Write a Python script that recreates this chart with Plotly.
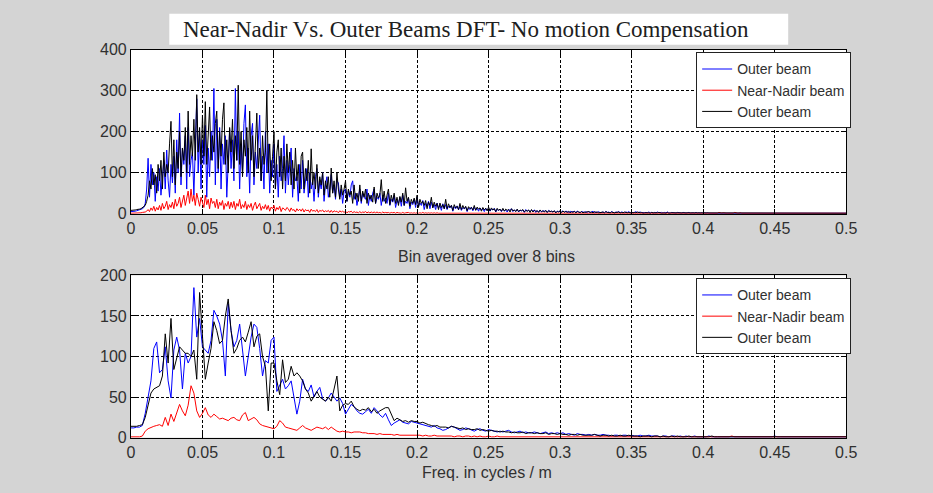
import plotly.graph_objects as go

TOP_STEP = 0.001
BOT_STEP = 0.002
X_TICKS = [0, 0.05, 0.1, 0.15, 0.2, 0.25, 0.3, 0.35, 0.4, 0.45, 0.5]
X_TICK_LABELS = ["0", "0.05", "0.1", "0.15", "0.2", "0.25", "0.3", "0.35", "0.4", "0.45", "0.5"]
TOP_Y_TICKS = [0, 100, 200, 300, 400]
BOT_Y_TICKS = [0, 50, 100, 150, 200]

# ---- Top panel: raw DFT magnitude (bin frequency = index * TOP_STEP)
top_outer_blue = [
    5, 5, 6, 6, 7, 8, 9, 10, 12, 15,
    25, 60, 135, 40, 120, 70, 100, 30, 90, 55,
    110, 45, 95, 130, 60, 155, 80, 40, 120, 75,
    140, 50, 180, 100, 245, 70, 160, 120, 190, 60,
    210, 90, 130, 150, 45, 170, 280, 100, 200, 60,
    180, 120, 215, 40, 160, 90, 200, 130, 305, 70,
    230, 100, 210, 60, 170, 120, 190, 40, 150, 205,
    110, 180, 80, 305, 130, 200, 60, 170, 100, 220,
    265, 90, 160, 50, 190, 220, 70, 150, 110, 180,
    240, 80, 140, 60, 200, 100, 170, 50, 130, 90,
    170, 60, 120, 40, 140, 80, 110, 190, 50, 130,
    70, 120, 160, 40, 110, 80, 90, 30, 120, 60,
    130, 50, 90, 110, 40, 100, 60, 80, 30, 90,
    110, 40, 80, 60, 100, 30, 70, 90, 40, 60,
    95, 50, 70, 35, 80, 75, 40, 60, 25, 55,
    60, 30, 55, 40, 70, 80, 35, 50, 20, 45,
    60, 25, 50, 40, 35, 60, 20, 45, 30, 50,
    60, 25, 40, 35, 50, 20, 45, 30, 38, 25,
    50, 20, 35, 28, 45, 15, 32, 25, 40, 18,
    45, 20, 30, 25, 38, 12, 28, 22, 35, 15,
    40, 18, 26, 20, 32, 10, 25, 18, 30, 12,
    28, 15, 22, 10, 26, 14, 20, 8, 24, 12,
    22, 10, 18, 14, 20, 6, 17, 12, 19, 9,
    18, 8, 15, 12, 16, 5, 14, 10, 16, 7,
    15, 9, 13, 6, 14, 10, 12, 5, 13, 8,
    12, 6, 11, 9, 13, 4, 10, 8, 11, 5,
    11, 7, 9, 4, 10, 8, 12, 5, 9, 6,
    10, 4, 8, 7, 9, 3, 10, 6, 8, 5,
    8, 6, 9, 3, 7, 5, 8, 4, 7, 6,
    7, 3, 8, 5, 6, 4, 7, 2, 6, 5,
    6, 4, 7, 3, 6, 5, 2, 6, 4, 5,
    5, 3, 6, 4, 2, 5, 4, 3, 5, 2,
    5, 3, 4, 6, 2, 4, 3, 5, 2, 4,
    4, 2, 5, 3, 4, 2, 5, 3, 2, 4,
    3, 5, 2, 4, 3, 2, 4, 3, 5, 2,
    4, 2, 3, 5, 2, 3, 4, 2, 3, 2,
    3, 2, 4, 2, 3, 1, 3, 2, 4, 2,
    2, 3, 1, 3, 2, 4, 2, 1, 3, 2,
    2, 1, 3, 2, 2, 1, 3, 2, 1, 2,
    3, 1, 2, 2, 1, 3, 1, 2, 1, 2,
    1, 2, 1, 2, 1, 1, 2, 1, 2, 1,
    1, 1, 2, 1, 1, 2, 1, 1, 1, 2,
    1, 1, 1, 2, 1, 1, 1, 1, 2, 1,
    1, 1, 1, 1, 1, 2, 1, 1, 1, 1,
    1, 1, 1, 1, 1, 1, 1, 1, 1, 1,
    1, 1, 1, 1, 1, 1, 1, 1, 1, 1,
    1, 1, 1, 1, 1, 1, 1, 1, 1, 1,
    1, 1, 1, 1, 1, 1, 1, 1, 1, 1,
    1, 1, 1, 1, 1, 1, 1, 1, 1, 1,
    1, 1, 1, 1, 1, 1, 1, 1, 1, 1,
    1,
]
top_near_nadir = [
    1, 1, 1, 1, 1, 2, 2, 2, 3, 3,
    4, 6, 10, 5, 14, 8, 18, 6, 15, 9,
    20, 8, 25, 12, 18, 30, 10, 22, 15, 28,
    12, 35, 18, 25, 40, 15, 30, 45, 20, 35,
    55, 25, 60, 30, 45, 20, 50, 35, 18, 40,
    30, 15, 45, 22, 35, 12, 38, 25, 30, 15,
    35, 12, 28, 20, 32, 10, 25, 18, 30, 12,
    28, 15, 30, 10, 25, 18, 35, 12, 22, 15,
    30, 10, 22, 15, 25, 8, 20, 28, 12, 18,
    25, 8, 18, 12, 22, 10, 20, 6, 16, 12,
    20, 6, 15, 10, 18, 5, 14, 12, 8, 15,
    12, 5, 14, 8, 10, 4, 12, 7, 11, 6,
    12, 4, 10, 7, 9, 3, 11, 6, 8, 5,
    10, 3, 8, 6, 9, 4, 7, 5, 8, 3,
    8, 3, 7, 5, 6, 2, 7, 4, 6, 3,
    6, 2, 5, 4, 6, 2, 5, 3, 4, 2,
    5, 2, 4, 3, 5, 2, 4, 2, 4, 2,
    4, 2, 4, 2, 3, 1, 4, 2, 3, 2,
    3, 1, 3, 2, 3, 1, 3, 2, 2, 1,
    3, 1, 2, 2, 3, 1, 2, 1, 2, 1,
    2, 1, 2, 1, 3, 1, 2, 1, 2, 1,
    2, 1, 2, 1, 2, 1, 1, 2, 1, 1,
    2, 1, 1, 2, 1, 1, 2, 1, 1, 1,
    1, 2, 1, 1, 1, 2, 1, 1, 1, 1,
    1, 1, 1, 2, 1, 1, 1, 1, 2, 1,
    1, 1, 2, 1, 1, 1, 1, 1, 1, 2,
    1, 1, 1, 1, 2, 1, 1, 1, 1, 1,
    2, 1, 1, 1, 1, 1, 2, 1, 1, 1,
    1, 1, 1, 2, 1, 1, 1, 1, 1, 1,
    1, 1, 2, 1, 1, 1, 1, 2, 1, 1,
    1, 2, 1, 1, 1, 1, 1, 1, 2, 1,
    1, 1, 1, 1, 2, 1, 1, 1, 1, 1,
    1, 1, 1, 1, 1, 1, 2, 1, 1, 1,
    1, 2, 1, 1, 1, 1, 1, 1, 1, 1,
    1, 1, 1, 1, 1, 2, 1, 1, 1, 1,
    1, 1, 1, 1, 1, 1, 1, 1, 2, 1,
    1, 1, 2, 1, 1, 1, 1, 1, 1, 1,
    1, 1, 1, 1, 1, 1, 2, 1, 1, 1,
    1, 1, 1, 1, 1, 1, 1, 1, 1, 1,
    1, 2, 1, 1, 1, 1, 1, 1, 1, 1,
    1, 1, 1, 2, 1, 1, 1, 1, 1, 2,
    1, 3, 1, 1, 2, 1, 1, 1, 1, 1,
    1, 1, 3, 1, 1, 1, 2, 1, 1, 1,
    1, 1, 1, 1, 1, 1, 1, 1, 1, 1,
    1, 1, 1, 1, 1, 1, 1, 1, 1, 1,
    1, 1, 1, 1, 1, 1, 1, 1, 1, 1,
    1, 1, 1, 1, 1, 1, 1, 1, 1, 1,
    1, 1, 1, 1, 1, 1, 1, 1, 1, 1,
    1, 1, 1, 1, 1, 1, 1, 1, 1, 1,
    1, 1, 1, 1, 1, 1, 1, 1, 1, 1,
    1,
]
top_outer_black = [
    8, 8, 9, 9, 10, 10, 11, 12, 14, 16,
    20, 30, 45, 80, 60, 110, 70, 95, 50, 120,
    80, 130, 60, 150, 90, 120, 100, 170, 225, 90,
    180, 70, 150, 110, 200, 90, 160, 130, 210, 100,
    250, 120, 190, 140, 230, 130, 290, 150, 210, 120,
    240, 140, 273, 120, 200, 260, 130, 190, 150, 220,
    250, 110, 200, 140, 230, 270, 120, 180, 100, 210,
    150, 230, 110, 190, 130, 313, 120, 200, 90, 180,
    140, 210, 100, 250, 130, 190, 90, 170, 245, 110,
    160, 80, 190, 120, 150, 300, 100, 170, 80, 140,
    200, 60, 150, 180, 90, 160, 60, 140, 80, 170,
    100, 150, 70, 130, 60, 160, 80, 120, 50, 140,
    150, 60, 110, 80, 130, 50, 158, 70, 100, 60,
    120, 50, 90, 70, 100, 45, 80, 60, 90, 40,
    111, 50, 80, 40, 100, 60, 35, 70, 45, 60,
    80, 30, 60, 45, 55, 25, 70, 35, 50, 30,
    70, 30, 55, 40, 60, 25, 50, 35, 45, 28,
    65, 25, 50, 38, 45, 83, 30, 55, 25, 45,
    60, 22, 45, 30, 50, 25, 40, 20, 42, 28,
    50, 20, 63, 30, 40, 18, 35, 25, 38, 22,
    45, 15, 35, 25, 30, 20, 32, 12, 28, 20,
    40, 14, 28, 18, 25, 10, 26, 15, 22, 12,
    35, 12, 24, 15, 20, 8, 22, 14, 18, 10,
    25, 10, 20, 12, 18, 7, 17, 12, 15, 9,
    20, 8, 16, 11, 14, 6, 15, 9, 13, 7,
    16, 7, 14, 9, 12, 5, 13, 8, 11, 6,
    13, 6, 11, 8, 10, 4, 12, 7, 9, 5,
    11, 5, 9, 7, 10, 4, 8, 6, 9, 3,
    10, 4, 8, 6, 7, 3, 9, 5, 7, 4,
    8, 3, 7, 5, 6, 4, 7, 2, 6, 4,
    7, 3, 6, 4, 5, 3, 6, 2, 5, 3,
    6, 2, 5, 4, 3, 5, 2, 4, 3, 5,
    5, 3, 4, 2, 5, 3, 4, 2, 3, 4,
    4, 2, 5, 3, 3, 2, 4, 3, 2, 3,
    3, 4, 2, 3, 2, 4, 3, 2, 3, 2,
    3, 2, 3, 2, 4, 2, 2, 3, 1, 2,
    2, 3, 2, 1, 3, 2, 2, 1, 2, 3,
    2, 1, 2, 2, 1, 3, 1, 2, 2, 1,
    2, 1, 1, 2, 1, 2, 1, 1, 2, 1,
    1, 2, 1, 1, 2, 1, 1, 2, 1, 1,
    1, 1, 2, 1, 1, 1, 2, 1, 1, 1,
    1, 1, 1, 1, 2, 1, 1, 1, 1, 1,
    1, 2, 1, 1, 1, 1, 1, 1, 1, 1,
    1, 1, 1, 1, 1, 1, 1, 1, 1, 1,
    1, 1, 1, 1, 1, 1, 1, 1, 1, 1,
    1, 1, 1, 1, 1, 1, 1, 1, 1, 1,
    1, 1, 1, 1, 1, 1, 1, 1, 1, 1,
    1, 1, 1, 1, 1, 1, 1, 1, 1, 1,
    1, 1, 1, 1, 1, 1, 1, 1, 1, 1,
    1, 1, 1, 1, 1, 1, 1, 1, 1, 1,
    1,
]

# ---- Bottom panel: bin averaged over 8 bins (bin frequency = index * BOT_STEP)
bot_outer_blue = [
    12, 12, 13, 13, 15, 30, 50, 70, 110, 118,
    80, 84, 112, 70, 49, 108, 124, 108, 60, 104,
    92, 100, 185, 124, 147, 112, 108, 104, 120, 157,
    150, 140, 120, 76, 165, 132, 112, 120, 140, 110,
    76, 100, 124, 140, 136, 110, 76, 95, 92, 120,
    124, 57, 65, 72, 60, 64, 70, 50, 29, 45,
    72, 60, 57, 65, 50, 57, 62, 48, 45, 49,
    55, 50, 45, 49, 42, 29, 35, 41, 38, 33,
    30, 29, 32, 35, 30, 37, 33, 28, 25, 30,
    22, 15, 18, 20, 22, 19, 18, 17, 20, 19,
    18, 17, 16, 15, 14, 13, 15, 12, 11, 9,
    10, 12, 14, 13, 11, 9, 10, 12, 11, 9,
    8, 10, 11, 9, 8, 10, 9, 8, 7, 8,
    7, 8, 9, 7, 6, 7, 8, 6, 7, 6,
    6, 7, 6, 5, 6, 7, 5, 6, 5, 6,
    5, 6, 4, 5, 4, 3, 5, 4, 4, 3,
    4, 3, 4, 3, 3, 4, 3, 3, 2, 3,
    3, 2, 3, 3, 2, 3, 2, 2, 3, 2,
    2, 3, 2, 2, 2, 1, 2, 2, 1, 2,
    2, 1, 2, 1, 2, 1, 1, 2, 1, 1,
    1, 1, 2, 1, 1, 1, 1, 1, 1, 1,
    1, 1, 1, 1, 1, 1, 1, 1, 1, 1,
    1, 1, 1, 1, 1, 2, 1, 1, 1, 1,
    1, 1, 1, 1, 1, 1, 1, 1, 1, 1,
    1, 1, 1, 1, 1, 1, 1, 1, 1, 1,
    1,
]
bot_near_nadir = [
    1, 1, 1, 1, 2, 8, 11, 13, 14, 15,
    16, 14, 25, 15, 29, 20, 30, 41, 33, 27,
    40, 64, 55, 33, 25, 30, 37, 28, 25, 29,
    26, 23, 24, 22, 21, 24, 25, 22, 21, 28,
    31, 21, 23, 25, 22, 17, 15, 14, 13, 12,
    11, 14, 21, 18, 13, 12, 11, 10, 9, 12,
    15, 12, 10, 9, 11, 13, 12, 11, 13, 10,
    13, 10, 8, 7, 8, 7, 7, 6, 7, 7,
    7, 6, 6, 5, 5, 5, 4, 5, 4, 4,
    4, 4, 3, 4, 3, 3, 3, 3, 3, 3,
    3, 3, 2, 3, 2, 2, 3, 2, 2, 2,
    2, 2, 2, 1, 2, 2, 1, 2, 2, 1,
    2, 1, 2, 1, 1, 2, 1, 1, 2, 1,
    1, 1, 1, 1, 1, 1, 1, 1, 1, 1,
    1, 1, 1, 1, 1, 1, 1, 1, 1, 1,
    1, 1, 1, 1, 1, 1, 1, 1, 1, 1,
    1, 1, 1, 1, 1, 1, 1, 1, 1, 1,
    1, 1, 1, 1, 1, 1, 1, 1, 1, 1,
    1, 1, 1, 1, 1, 1, 1, 1, 1, 1,
    1, 1, 1, 1, 1, 1, 1, 1, 1, 1,
    1, 1, 1, 1, 1, 1, 1, 1, 1, 1,
    2, 1, 1, 1, 1, 1, 1, 1, 1, 1,
    1, 1, 1, 1, 1, 1, 1, 1, 1, 1,
    1, 1, 1, 1, 1, 1, 1, 1, 1, 1,
    1, 1, 1, 1, 1, 1, 1, 1, 1, 1,
    1,
]
bot_outer_black = [
    14, 14, 14, 15, 16, 25, 42, 55, 60, 62,
    64, 76, 128, 92, 147, 84, 100, 112, 108, 104,
    104, 100, 108, 72, 179, 124, 72, 92, 110, 143,
    132, 116, 120, 150, 171, 132, 104, 110, 120, 124,
    118, 130, 143, 112, 125, 128, 100, 88, 33, 92,
    92, 70, 53, 96, 68, 72, 88, 76, 80, 76,
    70, 60, 55, 45, 52, 57, 50, 48, 45, 50,
    45, 60, 76, 33, 40, 42, 41, 45, 38, 35,
    33, 35, 34, 37, 32, 35, 30, 33, 35, 37,
    37, 30, 21, 24, 22, 20, 21, 19, 21, 20,
    20, 18, 19, 17, 16, 15, 14, 15, 13, 13,
    13, 12, 14, 13, 12, 11, 12, 10, 11, 10,
    10, 11, 9, 10, 9, 8, 9, 8, 8, 7,
    8, 7, 7, 6, 7, 6, 6, 7, 5, 6,
    6, 5, 6, 5, 5, 6, 4, 5, 5, 4,
    5, 4, 4, 3, 4, 4, 3, 4, 3, 3,
    3, 3, 4, 3, 2, 3, 3, 2, 3, 2,
    2, 3, 2, 2, 3, 2, 2, 2, 1, 2,
    2, 2, 1, 2, 2, 1, 2, 1, 1, 2,
    1, 2, 1, 1, 1, 2, 1, 1, 1, 1,
    1, 1, 1, 2, 1, 1, 1, 1, 1, 1,
    1, 1, 1, 1, 1, 1, 1, 1, 1, 1,
    1, 1, 1, 1, 1, 1, 1, 1, 1, 1,
    1, 1, 1, 1, 1, 1, 1, 1, 1, 1,
    1, 1, 1, 1, 1, 1, 1, 1, 1, 1,
    1,
]

SERIES_NAMES = ["Outer beam", "Near-Nadir beam", "Outer beam"]
SERIES_COLORS = ["#0000ff", "#ff0000", "#000000"]


def freqs(vals, step):
    return [round(i * step, 4) for i in range(len(vals))]


W, H = 933, 493
BG = "#d4d4d4"
TXT = "#303030"
SANS = "Liberation Sans, Arial, sans-serif"


def px_x(p):
    return p / W


def px_y(p):
    return 1 - p / H


fig = go.Figure()

for vals, name, col in zip([top_outer_blue, top_near_nadir, top_outer_black], SERIES_NAMES, SERIES_COLORS):
    fig.add_trace(go.Scatter(x=freqs(vals, TOP_STEP), y=vals, mode="lines", name=name,
                             line=dict(color=col, width=1), xaxis="x", yaxis="y", legend="legend"))
for vals, name, col in zip([bot_outer_blue, bot_near_nadir, bot_outer_black], SERIES_NAMES, SERIES_COLORS):
    fig.add_trace(go.Scatter(x=freqs(vals, BOT_STEP), y=vals, mode="lines", name=name,
                             line=dict(color=col, width=1), xaxis="x2", yaxis="y2", legend="legend2"))

x_dom = [px_x(129), px_x(856)]
axis_common = dict(showline=True, linecolor="black", linewidth=1, mirror="ticks",
                   ticks="inside", ticklen=5, tickcolor="black",
                   showgrid=True, gridcolor="black", gridwidth=1, griddash="3px,2px",
                   zeroline=False, tickfont=dict(family=SANS, size=16, color=TXT))

legend_common = dict(xanchor="right", yanchor="top", bgcolor="white", bordercolor="#222",
                     borderwidth=1, font=dict(family=SANS, size=14, color=TXT), itemwidth=30,
                     tracegroupgap=0)

fig.update_layout(
    width=W, height=H,
    margin=dict(l=0, r=0, t=0, b=0),
    paper_bgcolor=BG, plot_bgcolor="white",
    xaxis=dict(domain=x_dom, range=[0, 0.5], tickvals=X_TICKS, ticktext=X_TICK_LABELS,
               anchor="y", **axis_common),
    yaxis=dict(domain=[px_y(213), px_y(43)], range=[0, 400], tickvals=TOP_Y_TICKS,
               anchor="x", **axis_common),
    xaxis2=dict(domain=x_dom, range=[0, 0.5], tickvals=X_TICKS, ticktext=X_TICK_LABELS,
                anchor="y2", **axis_common),
    yaxis2=dict(domain=[px_y(445), px_y(277)], range=[0, 200], tickvals=BOT_Y_TICKS,
                anchor="x2", **axis_common),
    showlegend=True,
    legend=dict(x=px_x(861), y=px_y(46), **legend_common),
    legend2=dict(x=px_x(861), y=px_y(280), **legend_common),
    shapes=[dict(type="rect", xref="paper", yref="paper",
                 x0=px_x(168), x1=px_x(797), y0=px_y(38), y1=px_y(6),
                 fillcolor="white", line=dict(width=0), layer="below")],
    annotations=[
        dict(text="Near-Nadir Vs. Outer Beams DFT- No motion Compensation",
             x=px_x(470), y=px_y(22), xref="paper", yref="paper", showarrow=False,
             xanchor="center", yanchor="middle",
             font=dict(family="Liberation Serif, Times New Roman, serif", size=23, color="#202020")),
        dict(text="Bin averaged over 8 bins", x=px_x(490), y=px_y(257), xref="paper", yref="paper",
             showarrow=False, xanchor="center", yanchor="middle",
             font=dict(family=SANS, size=16, color=TXT)),
        dict(text="Freq. in cycles / m", x=px_x(491), y=px_y(481), xref="paper", yref="paper",
             showarrow=False, xanchor="center", yanchor="middle",
             font=dict(family=SANS, size=16, color=TXT)),
    ],
)

fig.write_html("out.html")
